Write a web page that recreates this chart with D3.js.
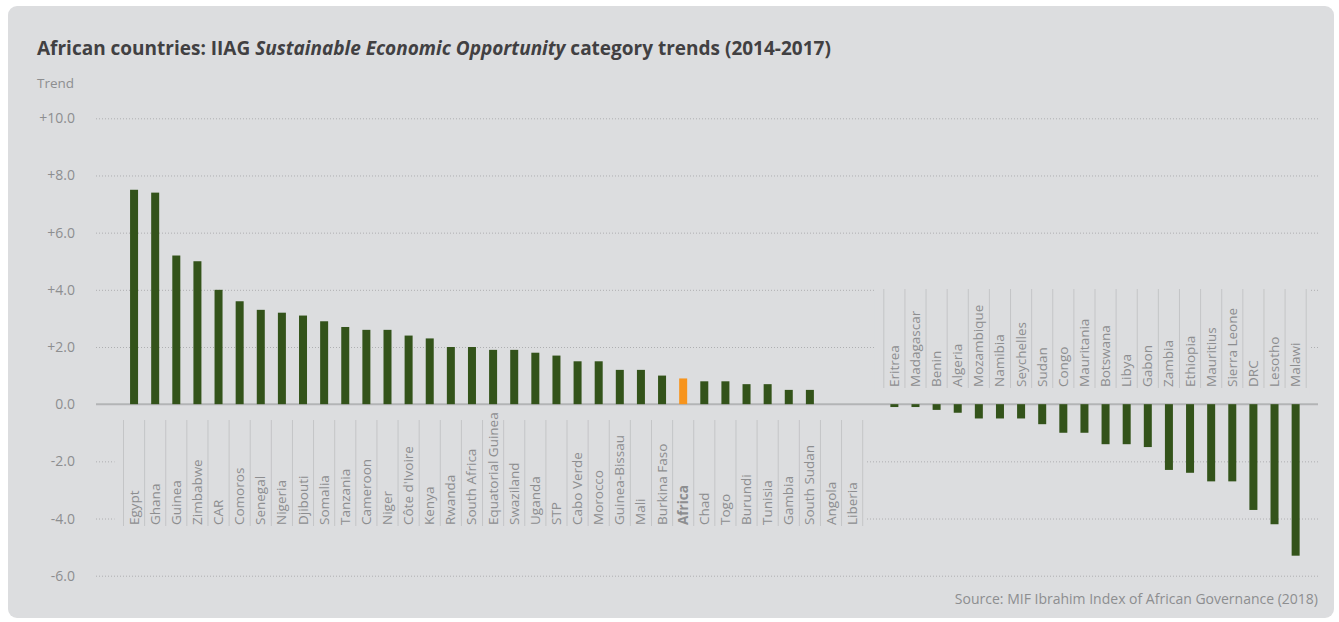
<!DOCTYPE html>
<html>
<head>
<meta charset="utf-8">
<script src="https://cdn.jsdelivr.net/npm/d3@7"></script>
<style>
  body { margin: 0; background: #fff; }
  text { font-family: "Open Sans", sans-serif; }
</style>
</head>
<body>
<svg id="chart" width="1339" height="622"></svg>
<script>
// countries with an improving trend (left group, label hangs below zero line)
const upCountries = ['Egypt', 'Ghana', 'Guinea', 'Zimbabwe', 'CAR', 'Comoros', 'Senegal', 'Nigeria',
  'Djibouti', 'Somalia', 'Tanzania', 'Cameroon', 'Niger', "Côte d'Ivoire", 'Kenya', 'Rwanda',
  'South Africa', 'Equatorial Guinea', 'Swaziland', 'Uganda', 'STP', 'Cabo Verde', 'Morocco',
  'Guinea-Bissau', 'Mali', 'Burkina Faso', 'Africa', 'Chad', 'Togo', 'Burundi', 'Tunisia',
  'Gambia', 'South Sudan', 'Angola', 'Liberia'];
const upValues = [7.5, 7.4, 5.2, 5.0, 4.0, 3.6, 3.3, 3.2, 3.1, 2.9, 2.7, 2.6, 2.6, 2.4, 2.3, 2.0,
  2.0, 1.9, 1.9, 1.8, 1.7, 1.5, 1.5, 1.2, 1.2, 1.0, 0.9, 0.8, 0.8, 0.7, 0.7, 0.5, 0.5, 0.0, 0.0];

// countries with a declining trend (right group, label sits above zero line)
const downCountries = ['Eritrea', 'Madagascar', 'Benin', 'Algeria', 'Mozambique', 'Namibia',
  'Seychelles', 'Sudan', 'Congo', 'Mauritania', 'Botswana', 'Libya', 'Gabon', 'Zambia',
  'Ethiopia', 'Mauritius', 'Sierra Leone', 'DRC', 'Lesotho', 'Malawi'];
const downValues = [-0.1, -0.1, -0.2, -0.3, -0.5, -0.5, -0.5, -0.7, -1.0, -1.0, -1.4, -1.4,
  -1.5, -2.3, -2.4, -2.7, -2.7, -3.7, -4.2, -5.3];

const yTicks = [10, 8, 6, 4, 2, 0, -2, -4, -6];
const highlight = 'Africa';

const titleStart = 'African countries: IIAG ';
const titleItalic = 'Sustainable Economic Opportunity';
const titleEnd = ' category trends (2014-2017)';
const sourceText = 'Source: MIF Ibrahim Index of African Governance (2018)';

const green = '#33531a';
const orange = '#f7941d';
const grey = '#8d8e90';
const bg = '#dcdddf';

const svg = d3.select('#chart');

// card background
svg.append('rect')
  .attr('x', 8).attr('y', 6)
  .attr('width', 1326).attr('height', 612)
  .attr('rx', 9)
  .attr('fill', bg);

// title
const title = svg.append('text')
  .attr('x', 37).attr('y', 55)
  .attr('font-size', 19)
  .attr('font-weight', 'bold')
  .attr('fill', '#414042');
title.append('tspan').text(titleStart);
title.append('tspan').attr('font-style', 'italic').text(titleItalic);
title.append('tspan').text(titleEnd);

svg.append('text')
  .attr('x', 37).attr('y', 88)
  .attr('font-size', 13.5)
  .attr('fill', grey)
  .text('Trend');

const slots = upCountries.concat(['__gap__'], downCountries);
const values = {};
upCountries.forEach((c, i) => values[c] = upValues[i]);
downCountries.forEach((c, i) => values[c] = downValues[i]);

const x = d3.scaleBand().domain(slots).range([123.5, 1306.2]).padding(0);
const y = d3.scaleLinear().domain([-6, 10]).range([575.7, 118.3]);

const gridLeft = 96, gridRight = 1320;

// dotted grid lines
const grid = svg.append('g')
  .attr('transform', `translate(${gridLeft},0)`)
  .call(d3.axisLeft(y).tickValues(yTicks.filter(d => d !== 0))
    .tickSize(-(gridRight - gridLeft)).tickFormat(''));
grid.select('.domain').remove();
grid.selectAll('.tick line')
  .attr('stroke', '#aeafb1')
  .attr('stroke-width', 1)
  .attr('stroke-dasharray', '1,2');

// y tick labels
const yAxis = svg.append('g')
  .attr('transform', 'translate(75,0)')
  .call(d3.axisLeft(y).tickValues(yTicks).tickSize(0).tickPadding(0)
    .tickFormat(d => d > 0 ? '+' + d.toFixed(1) : d.toFixed(1)));
yAxis.select('.domain').remove();
yAxis.selectAll('text')
  .attr('font-family', '"Open Sans", sans-serif')
  .attr('font-size', 14)
  .attr('fill', grey);

// label panels hide the grid behind the rotated names
const step = x.step();
const leftX0 = x(upCountries[0]);
const leftX1 = x(upCountries[upCountries.length - 1]) + step;
const rightX0 = x(downCountries[0]);
const rightX1 = x(downCountries[downCountries.length - 1]) + step;

svg.append('rect')
  .attr('x', leftX0 - 9).attr('y', 414)
  .attr('width', leftX1 - leftX0 + 12).attr('height', 118)
  .attr('fill', bg);
svg.append('rect')
  .attr('x', rightX0 - 9).attr('y', 284)
  .attr('width', rightX1 - rightX0 + 12).attr('height', 110)
  .attr('fill', bg);

// zero line
svg.append('line')
  .attr('x1', gridLeft).attr('x2', 1318)
  .attr('y1', y(0)).attr('y2', y(0))
  .attr('stroke', '#b3b4b6')
  .attr('stroke-width', 2);

// separators between the category labels
const sepColor = '#c4c5c7';
const leftEdges = upCountries.map(c => x(c)).concat([leftX1]);
const rightEdges = downCountries.map(c => x(c)).concat([rightX1]);

svg.append('g').selectAll('line')
  .data(leftEdges)
  .join('line')
  .attr('x1', d => d).attr('x2', d => d)
  .attr('y1', 420).attr('y2', 526)
  .attr('stroke', sepColor).attr('stroke-width', 1);

svg.append('g').selectAll('line')
  .data(rightEdges)
  .join('line')
  .attr('x1', d => d).attr('x2', d => d)
  .attr('y1', 289).attr('y2', 388)
  .attr('stroke', sepColor).attr('stroke-width', 1);

// bars
const barW = 8;
const allCountries = upCountries.concat(downCountries);
svg.append('g').selectAll('rect')
  .data(allCountries)
  .join('rect')
  .attr('x', d => x(d) + step / 2 - barW / 2)
  .attr('width', barW)
  .attr('y', d => y(Math.max(0, values[d])))
  .attr('height', d => Math.abs(y(values[d]) - y(0)))
  .attr('fill', d => d === highlight ? orange : green);

// category labels
function addLabels(list, baseY) {
  svg.append('g').selectAll('text')
    .data(list)
    .join('text')
    .attr('transform', d => `translate(${x(d) + step / 2 + 4.5},${baseY}) rotate(-90)`)
    .attr('font-size', 13.5)
    .attr('font-weight', d => d === highlight ? 'bold' : 'normal')
    .attr('fill', grey)
    .text(d => d);
}
addLabels(upCountries, 525);
addLabels(downCountries, 387);

// source
svg.append('text')
  .attr('x', 1318).attr('y', 604)
  .attr('text-anchor', 'end')
  .attr('font-size', 14)
  .attr('fill', grey)
  .text(sourceText);
</script>
</body>
</html>
